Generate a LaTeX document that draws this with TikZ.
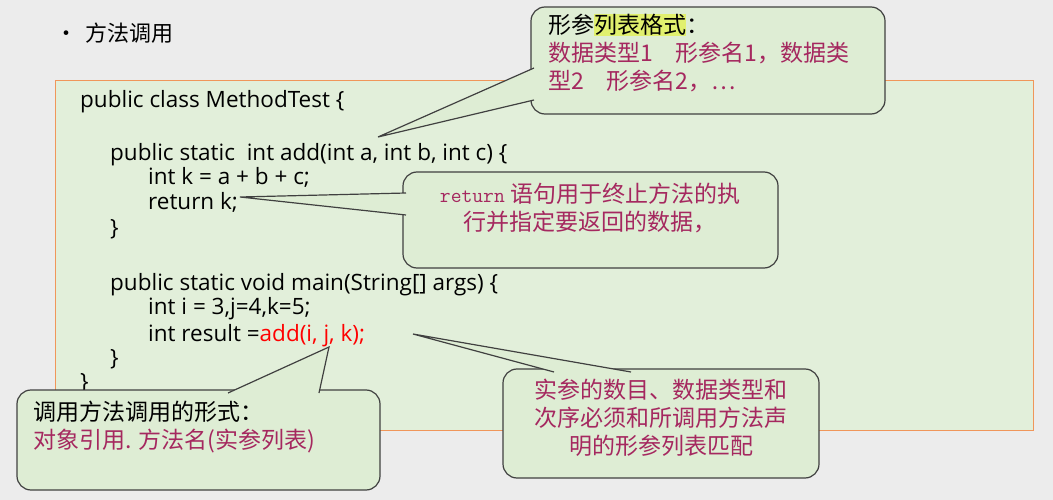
\documentclass[tikz,border=0pt]{standalone}
\usepackage{fontspec}
\setmainfont{Open Sans}
\newfontfamily\cjk{Noto Sans CJK SC}
\definecolor{bg}{RGB}{236,236,236}
\definecolor{codebg}{RGB}{226,239,218}
\definecolor{orangeb}{RGB}{240,150,90}
\definecolor{calbg}{RGB}{222,237,212}
\definecolor{mag}{RGB}{165,40,95}
\definecolor{hl}{RGB}{225,240,110}
\tikzset{
  code/.style={anchor=base west,font=\fontsize{22.5}{24}\selectfont,inner sep=0},
  calbox/.style={draw=black!75,line width=1.2pt,fill=calbg,rounded corners=14pt},
  ctext/.style={font=\cjk\fontsize{23}{28}\selectfont,inner sep=0,align=left}
}
\newcommand{\callout}[8]{%
 \draw[calbox] (#1,#2) rectangle (#3,#4);
 \fill[calbg] #6 -- #5 -- #7 -- cycle;
 \draw[black!75,line width=1.2pt,line join=miter] #6 -- #5 -- #7;
}
\begin{document}
\begin{tikzpicture}[x=1pt,y=-1pt]
\fill[bg] (0,0) rectangle (1053,500);
\useasboundingbox (0,0) rectangle (1053,500);
\node[anchor=base west,font=\cjk\fontsize{22}{24}\selectfont,inner sep=0] (title) at (55,42) {•\, 方法调用};
\draw[orangeb,fill=codebg,line width=1pt] (55,81) rectangle (1033,430);
\node[code] (l1) at (80,108) {public class MethodTest \{};
\node[code] (l2) at (110,161) {public static\ \ int add(int a, int b, int c) \{};
\node[code] (l3) at (148,185) {int k = a + b + c;};
\node[code] (l4) at (148,209) {return k;};
\node[code] (l5) at (110,235) {\}};
\node[code] (l6) at (110,290) {public static void main(String[] args) \{};
\node[code] (l7) at (148,314) {int i = 3,j=4,k=5;};
\node[code] (l8) at (148,341) {int result =\textcolor{red}{add(i, j, k);}};
\node[code] (l9) at (110,365) {\}};
\node[code] (l10) at (80,389) {\}};
% callout 1
\callout{531}{7}{885}{114}{(378,137)}{(534,68)}{(534,100)}{}
\node[ctext,anchor=north west] (c1) at (548,14) {形参\fboxsep=0pt\colorbox{hl}{列表格式}：\\
\textcolor{mag}{数据类型1\quad 形参名1，数据类}\\\textcolor{mag}{型2\quad 形参名2，…}};
% callout 2
\callout{403}{172}{778}{268}{(240,197)}{(406,193)}{(406,215)}{}
\node[ctext,anchor=north,align=center] (c2) at (590,183) {\textcolor{mag}{{\ttfamily\fontsize{21}{24}\selectfont return} 语句用于终止方法的执}\\\textcolor{mag}{行并指定要返回的数据，}};
% callout 3
\callout{17}{390}{380}{490}{(329,347)}{(228,393)}{(319,393)}{}
\node[ctext,anchor=north west] (c3) at (33,401) {调用方法调用的形式：\\\textcolor{mag}{对象引用. 方法名(实参列表)}};
% callout 4
\callout{503}{369}{819}{478}{(413,334)}{(554,372)}{(631,372)}{}
\node[ctext,anchor=north,align=center] (c4) at (661,379) {\textcolor{mag}{实参的数目、数据类型和}\\\textcolor{mag}{次序必须和所调用方法声}\\\textcolor{mag}{明的形参列表匹配}};
\end{tikzpicture}
\end{document}
